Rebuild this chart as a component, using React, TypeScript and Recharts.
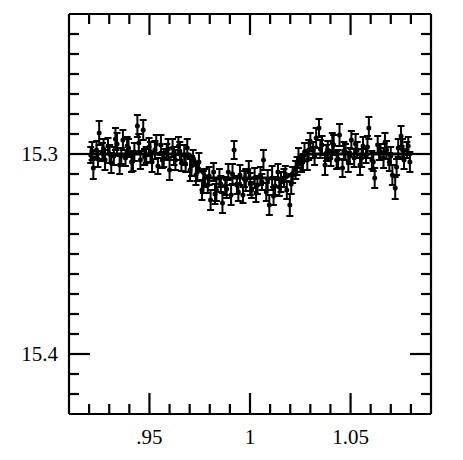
import { ComposedChart, Scatter, Line, XAxis, YAxis, ErrorBar } from 'recharts'

// observed points: phase, magnitude, 1-sigma error
const phase = [
  0.9208, 0.9221, 0.9237, 0.925, 0.9266, 0.9279, 0.9294, 0.931, 0.9323, 0.9339,
  0.9352, 0.9368, 0.9381, 0.9396, 0.9411, 0.9425, 0.944, 0.9455, 0.9469, 0.9484,
  0.9498, 0.9513, 0.9527, 0.9542, 0.9557, 0.9571, 0.9586, 0.96, 0.9615, 0.9629,
  0.9644, 0.9659, 0.9673, 0.9688, 0.9702, 0.9717, 0.9731, 0.9746, 0.9761, 0.9775,
  0.979, 0.9804, 0.9819, 0.9833, 0.9848, 0.9863, 0.9877, 0.9892, 0.9906, 0.9921,
  0.9935, 0.995, 0.9965, 0.9979, 0.9994, 1.0008, 1.0023, 1.0037, 1.0052, 1.0067,
  1.0081, 1.0096, 1.011, 1.0125, 1.0139, 1.0154, 1.0169, 1.0183, 1.0198, 1.0212,
  1.0227, 1.0241, 1.0256, 1.0271, 1.0285, 1.03, 1.0314, 1.0329, 1.0343, 1.0358,
  1.0373, 1.0387, 1.0402, 1.0416, 1.0431, 1.0445, 1.046, 1.0475, 1.0489, 1.0504,
  1.0518, 1.0533, 1.0547, 1.0562, 1.0577, 1.0591, 1.0606, 1.062, 1.0635, 1.0649,
  1.0664, 1.0679, 1.0693, 1.0708, 1.0722, 1.0737, 1.0751, 1.0766, 1.078, 1.0795,
  0.9215, 0.9244, 0.9272, 0.9302, 0.9331, 0.936, 0.9389, 0.9418, 0.9447, 0.9476,
  0.9505, 0.9534, 0.9564, 0.9593, 0.9622, 0.9651, 0.968, 0.9709, 0.9738, 0.9768,
  0.9797, 0.9826, 0.9855, 0.9884, 0.9913, 0.9942, 0.9972, 1.0001, 1.003, 1.0059,
  1.0088, 1.0117, 1.0146, 1.0176, 1.0205, 1.0234, 1.0263, 1.0292, 1.0321, 1.035,
  1.038, 1.0409, 1.0438, 1.0467, 1.0496, 1.0525, 1.0555, 1.0584, 1.0613, 1.0642,
  1.0671, 1.07, 1.0729, 1.0758, 1.0787,
]
const mag = [
  15.3005, 15.307, 15.298, 15.2895, 15.299, 15.303, 15.296, 15.3045, 15.301, 15.295,
  15.3055, 15.293, 15.302, 15.297, 15.304, 15.299, 15.286, 15.303, 15.288, 15.3005,
  15.2965, 15.304, 15.298, 15.306, 15.2955, 15.302, 15.299, 15.308, 15.297, 15.303,
  15.296, 15.3045, 15.3005, 15.297, 15.308, 15.302, 15.3105, 15.304, 15.318, 15.312,
  15.3155, 15.323, 15.309, 15.318, 15.312, 15.3245, 15.316, 15.309, 15.3205, 15.298,
  15.3155, 15.3105, 15.3205, 15.313, 15.308, 15.318, 15.312, 15.3155, 15.311, 15.303,
  15.319, 15.3255, 15.312, 15.316, 15.309, 15.314, 15.312, 15.318, 15.3255, 15.3105,
  15.308, 15.302, 15.305, 15.299, 15.303, 15.294, 15.298, 15.292, 15.287, 15.2955,
  15.3055, 15.298, 15.302, 15.2955, 15.303, 15.2905, 15.307, 15.299, 15.304, 15.293,
  15.302, 15.298, 15.3055, 15.296, 15.3005, 15.287, 15.303, 15.312, 15.2955, 15.299,
  15.302, 15.298, 15.304, 15.3105, 15.317, 15.297, 15.291, 15.303, 15.298, 15.304,
  15.2985, 15.3025, 15.2975, 15.3, 15.2925, 15.301, 15.296, 15.3035, 15.2945, 15.3015,
  15.299, 15.295, 15.303, 15.2975, 15.301, 15.2985, 15.305, 15.306, 15.309, 15.314,
  15.311, 15.32, 15.315, 15.3175, 15.31, 15.319, 15.3125, 15.315, 15.3195, 15.314,
  15.313, 15.321, 15.3165, 15.31, 15.315, 15.306, 15.304, 15.298, 15.301, 15.2975,
  15.2995, 15.2945, 15.3025, 15.2985, 15.301, 15.295, 15.302, 15.2965, 15.304, 15.299,
  15.2945, 15.301, 15.3065, 15.2975, 15.296,
]
const err = [
  0.004, 0.0055, 0.0045, 0.006, 0.0045, 0.005, 0.004, 0.005, 0.0045, 0.0055,
  0.0045, 0.005, 0.004, 0.0045, 0.005, 0.0045, 0.0055, 0.0045, 0.005, 0.004,
  0.0045, 0.005, 0.0045, 0.004, 0.005, 0.0045, 0.004, 0.005, 0.0045, 0.005,
  0.0045, 0.004, 0.005, 0.0045, 0.0055, 0.004, 0.005, 0.0045, 0.005, 0.0045,
  0.004, 0.005, 0.0045, 0.0055, 0.0045, 0.005, 0.0045, 0.004, 0.005, 0.0045,
  0.0045, 0.005, 0.004, 0.0055, 0.0045, 0.004, 0.005, 0.0045, 0.0045, 0.005,
  0.0045, 0.005, 0.006, 0.0045, 0.004, 0.005, 0.0045, 0.0045, 0.0055, 0.004,
  0.0045, 0.005, 0.004, 0.0045, 0.005, 0.0045, 0.004, 0.005, 0.0045, 0.0045,
  0.005, 0.0045, 0.004, 0.005, 0.0045, 0.0055, 0.0045, 0.004, 0.005, 0.0045,
  0.0045, 0.004, 0.005, 0.0045, 0.004, 0.0055, 0.0045, 0.005, 0.0045, 0.004,
  0.005, 0.0045, 0.0045, 0.005, 0.0055, 0.0045, 0.005, 0.0045, 0.004, 0.005,
  0.0045, 0.004, 0.005, 0.0045, 0.0055, 0.004, 0.0045, 0.005, 0.0045, 0.004,
  0.005, 0.0045, 0.004, 0.005, 0.0045, 0.0045, 0.004, 0.005, 0.0045, 0.0055,
  0.0045, 0.005, 0.004, 0.0045, 0.005, 0.0045, 0.004, 0.0055, 0.0045, 0.004,
  0.005, 0.0045, 0.0045, 0.004, 0.005, 0.0045, 0.004, 0.005, 0.0045, 0.0045,
  0.004, 0.005, 0.0045, 0.0045, 0.004, 0.005, 0.0045, 0.0055, 0.0045, 0.004,
  0.005, 0.0045, 0.004, 0.005, 0.0045,
]

// model curve
const modelPhase = [0.92, 0.97, 0.972, 0.974, 0.976, 0.978, 0.98, 1.018, 1.02, 1.022, 1.024, 1.026, 1.028, 1.08]
const modelMag = [15.3, 15.3, 15.302, 15.306, 15.309, 15.311, 15.312, 15.312, 15.3105, 15.308, 15.305, 15.302, 15.3, 15.3]

// axes
const xDomain = [0.91, 1.09]
const yDomain = [15.23, 15.43]
const xTicks = [0.92, 0.93, 0.94, 0.95, 0.96, 0.97, 0.98, 0.99, 1, 1.01, 1.02, 1.03, 1.04, 1.05, 1.06, 1.07, 1.08]
const xMajor = [0.95, 1, 1.05]
const xMajorLabels = ['.95', '1', '1.05']
const yTicks = [15.24, 15.25, 15.26, 15.27, 15.28, 15.29, 15.3, 15.31, 15.32, 15.33, 15.34, 15.35, 15.36, 15.37, 15.38, 15.39, 15.4, 15.41, 15.42]
const yMajor = [15.3, 15.4]
const yMajorLabels = ['15.3', '15.4']

const points = phase.map((p, i) => ({ phase: p, mag: mag[i], err: err[i] }))
const model = modelPhase.map((p, i) => ({ phase: p, mag: modelMag[i] }))

const FONT = '"Liberation Serif", "DejaVu Serif", serif'
const MAJOR = 21
const MINOR = 10

const majorIdx = (v: number, list: number[]) => list.findIndex(m => Math.abs(m - v) < 1e-6)

function Tick(props: any) {
  const { x, y, payload, side } = props
  const v = payload.value
  const isX = side === 'bottom' || side === 'top'
  const idx = majorIdx(v, isX ? xMajor : yMajor)
  const len = idx >= 0 ? MAJOR : MINOR
  let x2 = x, y2 = y
  if (side === 'bottom') y2 = y - len
  if (side === 'top') y2 = y + len
  if (side === 'left') x2 = x + len
  if (side === 'right') x2 = x - len
  return (
    <g>
      <line x1={x} y1={y} x2={x2} y2={y2} stroke="#000" strokeWidth={2.2} />
      {idx >= 0 && side === 'bottom' && (
        <text x={x} y={y + 30} textAnchor="middle" fontFamily={FONT} fontSize={21} fill="#000">
          {xMajorLabels[idx]}
        </text>
      )}
      {idx >= 0 && side === 'left' && (
        <text x={x - 11} y={y} dy="0.34em" textAnchor="end" fontFamily={FONT} fontSize={21} fill="#000">
          {yMajorLabels[idx]}
        </text>
      )}
    </g>
  )
}

const axisLine = { stroke: '#000', strokeWidth: 2.2 }

export default function App() {
  return (
    <div style={{ position: 'absolute', left: 0, top: 0, width: 463, height: 460, background: '#fff' }}>
      <ComposedChart width={463} height={460} margin={{ top: 13, right: 31, bottom: 16, left: 0 }}>
        <XAxis
          xAxisId="b" type="number" dataKey="phase" domain={xDomain} ticks={xTicks} interval={0}
          allowDataOverflow height={30} tickSize={0} tickMargin={0} tickLine={false} axisLine={axisLine}
          tick={(p: any) => <Tick {...p} side="bottom" />}
        />
        <XAxis
          xAxisId="t" orientation="top" type="number" dataKey="phase" domain={xDomain} ticks={xTicks} interval={0}
          allowDataOverflow height={1} tickSize={0} tickMargin={0} tickLine={false} axisLine={axisLine}
          tick={(p: any) => <Tick {...p} side="top" />}
        />
        <YAxis
          yAxisId="l" type="number" dataKey="mag" domain={yDomain} ticks={yTicks} interval={0} reversed
          allowDataOverflow width={69} tickSize={0} tickMargin={0} tickLine={false} axisLine={axisLine}
          tick={(p: any) => <Tick {...p} side="left" />}
        />
        <YAxis
          yAxisId="r" orientation="right" type="number" dataKey="mag" domain={yDomain} ticks={yTicks} interval={0} reversed
          allowDataOverflow width={1} tickSize={0} tickMargin={0} tickLine={false} axisLine={axisLine}
          tick={(p: any) => <Tick {...p} side="right" />}
        />
        <Line
          xAxisId="b" yAxisId="l" data={model} dataKey="mag" type="linear" stroke="#000" strokeWidth={3.2}
          dot={false} activeDot={false} isAnimationActive={false}
        />
        <Scatter
          xAxisId="b" yAxisId="l" data={points} dataKey="mag" isAnimationActive={false}
          shape={(p: any) => <circle cx={p.cx} cy={p.cy} r={2.5} fill="#000" />}
        >
          <ErrorBar dataKey="err" direction="y" width={3.5} stroke="#000" strokeWidth={2} isAnimationActive={false} />
        </Scatter>
      </ComposedChart>
    </div>
  )
}
